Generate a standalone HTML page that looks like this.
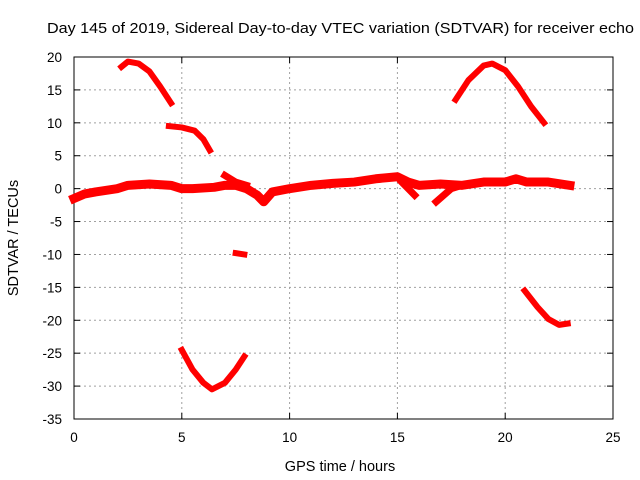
<!DOCTYPE html>
<html><head><meta charset="utf-8"><style>
body{margin:0;background:#fff}
svg{display:block;font-family:"Liberation Sans",sans-serif}
</style></head><body>
<svg id="chart" width="640" height="480">
<rect width="640" height="480" fill="#fff"/>
<text x="47" y="33" font-size="15" textLength="587" lengthAdjust="spacingAndGlyphs">Day 145 of 2019, Sidereal Day-to-day VTEC variation (SDTVAR) for receiver echo</text>
<g id="grid"></g><g id="axes"></g><g id="series"></g>
<text x="340" y="471" text-anchor="middle" font-size="14.5">GPS time / hours</text>
<text transform="translate(18,238) rotate(-90)" text-anchor="middle" font-size="14.5">SDTVAR / TECUs</text>
</svg>
<script>
const xTicks=[0,5,10,15,20,25];
const yTicks=[20,15,10,5,0,-5,-10,-15,-20,-25,-30,-35];
const segA=[[2.2,18.5],[2.5,19.3],[3,19],[3.5,17.8],[4,15.5],[4.5,13]];
const segB=[[4.4,9.5],[5,9.3],[5.6,8.8],[6,7.5],[6.3,5.8]];
const segC=[[5,-24.5],[5.5,-27.5],[6,-29.5],[6.4,-30.5],[7,-29.5],[7.5,-27.5],[7.9,-25.5]];
const segD=[[7.5,-9.8],[7.9,-10]];
const segE=[[17.7,13.5],[18.3,16.5],[19,18.7],[19.4,19],[20,18],[20.6,15.5],[21.2,12.5],[21.8,10]];
const segF=[[20.9,-15.5],[21.5,-18],[22,-19.8],[22.5,-20.7],[22.9,-20.5]];
const segMain=[[0,-1.5],[0.5,-0.8],[1,-0.5],[2,0],[2.5,0.5],[3.5,0.7],[4.5,0.5],[5,0],[5.5,0],[6.5,0.2],[7,0.5],[7.5,0.5],[8,0],[8.5,-1],[8.8,-2],[9.2,-0.5],[10,0],[11,0.5],[12,0.8],[13,1],[14,1.5],[15,1.8],[15.5,1],[16,0.5],[17,0.7],[18,0.5],[19,1],[20,1],[20.5,1.5],[21,1],[22,1],[23,0.5]];
const segG=[[7,2],[7.5,1],[8,0.5]];
const segH=[[16.8,-2],[17.5,0],[18,0.5]];
const segI=[[15.2,1],[15.8,-1]];
const segments=[segA,segB,segC,segD,segE,segF,segMain,segG,segH,segI];
const widths=[6,6,6,6,6,6,9,7,7,7];
const X0=74,X1=613,Y0=57,Y1=419;
const sx=v=>X0+(v-0)/25*(X1-X0);
const sy=v=>Y0+(20-v)/55*(Y1-Y0);
const NS="http://www.w3.org/2000/svg";
function mk(t,a,p){const e=document.createElementNS(NS,t);for(const k in a)e.setAttribute(k,a[k]);p.appendChild(e);return e;}
const grid=document.getElementById('grid'),axes=document.getElementById('axes'),ser=document.getElementById('series');
xTicks.forEach(t=>{
 if(t>0&&t<25){const l=mk('line',{x1:sx(t),x2:sx(t),y1:Y0,y2:Y1,stroke:'#a0a0a0','stroke-dasharray':'2,3'},grid);
 
 }
 const tx=mk('text',{x:sx(t),y:Y1+23,'text-anchor':'middle','font-size':13.5},axes);tx.textContent=t;
 
 
 mk('line',{x1:sx(t),x2:sx(t),y1:Y1,y2:Y1-6,stroke:'#000'},axes);
 mk('line',{x1:sx(t),x2:sx(t),y1:Y0,y2:Y0+6,stroke:'#000'},axes);
});
yTicks.forEach(t=>{
 if(t<20&&t>-35){const l=mk('line',{x1:X0,x2:X1,y1:sy(t),y2:sy(t),stroke:'#a0a0a0','stroke-dasharray':'2,3'},grid);
 
 }
 const tx=mk('text',{x:X0-12,y:sy(t)+5,'text-anchor':'end','font-size':13.5},axes);tx.textContent=t;
 
 
 mk('line',{x1:X0,x2:X0+6,y1:sy(t),y2:sy(t),stroke:'#000'},axes);
 mk('line',{x1:X1,x2:X1-6,y1:sy(t),y2:sy(t),stroke:'#000'},axes);
});
const fr=mk('rect',{x:X0,y:Y0,width:X1-X0,height:Y1-Y0,fill:'none',stroke:'#000'},axes);


segments.forEach((s,i)=>{
 const p=mk('polyline',{points:s.map(d=>sx(d[0])+','+sy(d[1])).join(' '),fill:'none',stroke:'#f00','stroke-width':widths[i],'stroke-linejoin':'round','stroke-linecap':'square'},ser);
 
 
});
</script>
</body></html>
